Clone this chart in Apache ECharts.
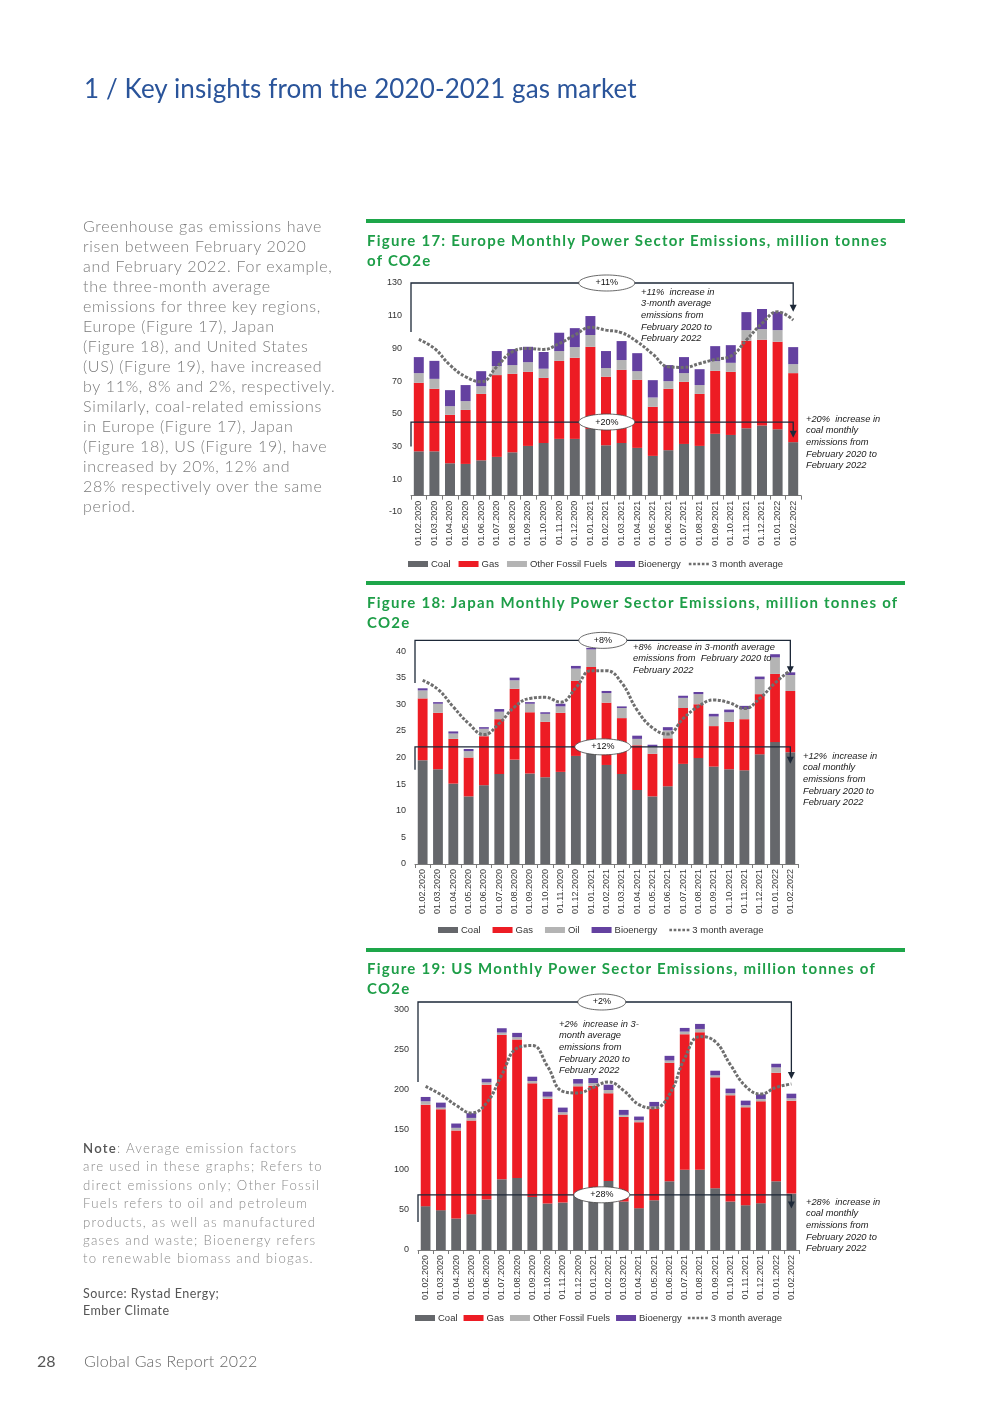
<!DOCTYPE html>
<html><head><meta charset="utf-8">
<script src="https://cdn.jsdelivr.net/npm/echarts@6/dist/echarts.min.js"></script>
<style>
html,body{margin:0;padding:0;background:#fff;}
body{width:987px;height:1403px;position:relative;overflow:hidden;font-family:Lato,"Open Sans",sans-serif;}
#chart{position:absolute;left:0;top:0;width:987px;height:1403px;}
.t{position:absolute;white-space:nowrap;}
#title{left:84px;top:72px;font-size:26px;color:#2a549a;font-weight:400;letter-spacing:0.1px;}
#body{left:83px;top:216px;font-size:16px;line-height:20px;color:#7a7a7a;letter-spacing:0.7px;font-weight:300;}
#note{left:83px;top:1139px;font-size:13.2px;line-height:18.4px;color:#8a8a8a;letter-spacing:1.25px;font-weight:300;}
#note b{color:#555;font-weight:600;}
#src{left:83px;top:1285px;font-size:12.5px;line-height:17px;color:#555;letter-spacing:0.5px;}
#pg{left:37px;top:1351px;font-size:16px;color:#555;}
#foot{left:84px;top:1351px;font-size:16px;color:#666;letter-spacing:0.3px;font-weight:300;}
.rule{position:absolute;left:366px;width:539px;height:4px;background:#1ea64a;}
.ft{position:absolute;left:367px;font-size:15px;line-height:20px;color:#1e9e48;font-weight:700;letter-spacing:1.25px;white-space:nowrap;}
</style></head>
<body>
<div id="chart"></div>
<div class="t" id="title">1 / Key insights from the 2020-2021 gas market</div>
<div class="t" id="body">Greenhouse gas emissions have<br>risen between February 2020<br>and February 2022. For example,<br>the three-month average<br>emissions for three key regions,<br>Europe (Figure 17), Japan<br>(Figure 18), and United States<br>(US) (Figure 19), have increased<br>by 11%, 8% and 2%, respectively.<br>Similarly, coal-related emissions<br>in Europe (Figure 17), Japan<br>(Figure 18), US (Figure 19), have<br>increased by 20%, 12% and<br>28% respectively over the same<br>period.</div>
<div class="rule" style="top:219px"></div>
<div class="ft" style="top:230px">Figure 17: Europe Monthly Power Sector Emissions, million tonnes<br>of CO2e</div>
<div class="rule" style="top:581px"></div>
<div class="ft" style="top:592px">Figure 18: Japan Monthly Power Sector Emissions, million tonnes of<br>CO2e</div>
<div class="rule" style="top:948px"></div>
<div class="ft" style="top:958px">Figure 19: US Monthly Power Sector Emissions, million tonnes of<br>CO2e</div>
<div class="t" id="note"><b>Note</b>: Average emission factors<br>are used in these graphs; Refers to<br>direct emissions only; Other Fossil<br>Fuels refers to oil and petroleum<br>products, as well as manufactured<br>gases and waste; Bioenergy refers<br>to renewable biomass and biogas.</div>
<div class="t" id="src">Source: Rystad Energy;<br>Ember Climate</div>
<div class="t" id="pg">28</div>
<div class="t" id="foot">Global Gas Report 2022</div>
<script>
const months = ['01.02.2020','01.03.2020','01.04.2020','01.05.2020','01.06.2020','01.07.2020','01.08.2020','01.09.2020','01.10.2020','01.11.2020','01.12.2020','01.01.2021','01.02.2021','01.03.2021','01.04.2021','01.05.2021','01.06.2021','01.07.2021','01.08.2021','01.09.2021','01.10.2021','01.11.2021','01.12.2021','01.01.2022','01.02.2022'];

// Europe
const euCoal  = [27.1,27.1,19.8,19.4,21.6,23.7,26.5,30.4,32.2,34.7,34.7,40.8,30.8,32.2,29.2,24.3,27.8,31.6,30.4,37.8,37.1,41.2,42.9,40.6,32.7];
const euGas   = [41.9,38.2,29.6,33.0,40.6,50.0,48.0,45.3,39.8,47.7,49.6,50.2,41.9,44.7,41.6,30.0,37.5,38.0,31.8,38.5,38.6,53.5,52.4,53.5,42.2];
const euOther = [5.9,6.1,5.3,5.4,4.7,5.5,5.3,5.9,5.6,6.0,6.5,7.2,5.3,6.0,5.3,5.7,4.7,5.3,5.4,5.9,5.5,6.5,6.5,7.1,5.5];
const euBio   = [9.8,11.0,9.8,9.8,9.2,9.2,9.8,9.4,10.2,11.2,11.6,11.6,10.4,11.6,11.0,10.6,9.8,9.8,9.7,9.2,10.8,11.0,12.3,11.2,10.4];
const euAvg   = [95.5,90.0,79.8,72.7,69.6,78.8,88.0,90.0,89.4,93.0,98.2,102.9,101.2,99.6,94.1,86.5,78.8,78.4,80.8,83.3,85.3,95.1,105.3,112.4,107.3];

// Japan
const jpCoal = [19.5,17.8,15.1,12.7,14.8,16.9,19.6,17.0,16.3,17.3,20.3,21.1,18.6,16.9,13.9,12.7,14.6,18.8,19.9,18.3,17.8,17.6,20.6,22.9,21.0];
const jpGas  = [11.6,10.6,8.4,7.3,9.2,10.3,13.3,11.5,10.4,11.1,14.1,15.9,11.7,10.5,8.4,8.0,9.0,10.5,10.1,7.6,8.9,9.6,11.3,12.8,11.5];
const jpOil  = [1.5,1.7,1.0,1.2,1.4,1.4,1.6,1.6,1.5,1.2,2.3,3.3,1.8,1.9,1.2,1.3,1.5,1.9,1.9,1.8,1.8,1.9,2.8,3.1,3.0];
const jpBio  = [0.4,0.3,0.4,0.4,0.3,0.5,0.5,0.3,0.3,0.5,0.5,0.3,0.4,0.3,0.6,0.4,0.6,0.4,0.4,0.5,0.5,0.6,0.5,0.6,0.5];
const jpAvg  = [34.5,32.8,29.5,26.4,24.3,26.4,29.5,31.1,31.3,30.4,33.1,36.3,36.3,34.0,28.9,25.6,24.4,27.3,29.6,30.8,30.3,29.2,31.1,34.0,36.4];

// US
const usCoal  = [54.8,49.8,39.4,44.8,63.1,88.4,90.0,66.4,58.1,59.3,68,72,86.3,60.6,52.3,62.2,85.9,100.4,100.4,77.2,60.6,56.0,58.5,85.9,70.5];
const usGas   = [126.9,126.1,110.0,117.0,143.5,180.5,173.1,141.9,131.1,110.0,136.6,133.4,109.6,105.8,107.5,114.6,148.1,169.3,171.8,138.6,132.8,122.4,127.4,135.7,116.2];
const usOther = [4.2,2.1,3.3,3.3,2.9,2.9,2.9,2.9,2.5,2.9,3.3,3.3,4.1,2.5,2.4,2.5,2.9,3.3,4.1,2.5,2.5,2.5,2.9,6.6,2.9];
const usBio   = [5.4,6.2,5.4,5.9,4.6,5.4,5.4,5.4,6.2,5.8,5.8,6.2,6.6,6.2,4.6,5.8,5.8,4.6,6.3,5.8,5.8,5.8,5.8,4.6,5.8];
const usAvg   = [204.6,194.2,180.9,171.4,183.8,219.0,252.3,255.6,229.5,198.3,196.3,203.3,210.0,199.2,181.7,177.6,194.2,239.8,266.8,260.6,231.5,204.6,195.0,203.3,207.5];

const C = {coal:'#65676b', gas:'#ed1c24', other:'#b4b4b4', bio:'#6441a0', avg:'#6e6e6e'};
const FONT = 'Liberation Sans';

const grids = [
  {left:411, top:283, width:390, height:229},
  {left:415, top:624.4, width:383, height:239.6},
  {left:418, top:1010, width:381, height:240}
];
const yAx = [
  {min:-10, max:130, interval:20, showMax:true},
  {min:0, max:45, interval:5, showMax:false},
  {min:0, max:300, interval:50, showMax:true}
];
const sets = [
  {names:['Coal','Gas','Other Fossil Fuels','Bioenergy','3 month average'], data:[euCoal,euGas,euOther,euBio,euAvg], legend:{left:408, top:559, gap:8}},
  {names:['Coal','Gas','Oil','Bioenergy','3 month average'], data:[jpCoal,jpGas,jpOil,jpBio,jpAvg], legend:{left:438, top:925, gap:12}},
  {names:['Coal','Gas','Other Fossil Fuels','Bioenergy','3 month average'], data:[usCoal,usGas,usOther,usBio,usAvg], legend:{left:415, top:1313, gap:6}}
];
const colors = [C.coal, C.gas, C.other, C.bio];
const dotIcon = 'path://M0,0h3v3h-3z M5,0h3v3h-3z M10,0h3v3h-3z M15,0h3v3h-3z M20,0h3v3h-3z';

const option = {
  animation:false,
  grid: grids.map(g=>Object.assign({containLabel:false}, g)),
  xAxis: grids.map((g,i)=>{
    // Europe: axis line sits on the zero value, above the -10 floor of the value axis
    const off = i===0 ? -(g.height*10/140) : 0;
    return {
      type:'category', gridIndex:i, data:months, boundaryGap:true, position:'bottom', offset:off,
      axisLine:{show:true, onZero:false, lineStyle:{color:'#7a7a7a', width:1}},
      axisTick:{show:true, length:4, lineStyle:{color:'#7a7a7a'}},
      axisLabel:{rotate:90, interval:0, fontSize:9, color:'#3a3a3a', fontFamily:FONT, margin:5}
    };
  }),
  yAxis: yAx.map((y,i)=>({
    type:'value', gridIndex:i, min:y.min, max:y.max, interval:y.interval,
    axisLine:{show:false}, axisTick:{show:false}, splitLine:{show:false},
    axisLabel:{fontSize:9, color:'#333', fontFamily:FONT, margin:9, showMaxLabel:y.showMax}
  })),
  legend: sets.map((s,i)=>({
    left:s.legend.left, top:s.legend.top, itemWidth:20, itemHeight:6, itemGap:s.legend.gap,
    padding:0, orient:'horizontal',
    textStyle:{fontSize:9.5, color:'#333', fontFamily:FONT, padding:[0,0,0,-2]},
    data:s.names.map((n,k)=>k<4?{name:n, icon:'rect'}:{name:n, icon:dotIcon, itemStyle:{color:C.avg}}),
    selectedMode:false
  })),
  series: []
};
sets.forEach((s,gi)=>{
  for(let k=0;k<4;k++){
    option.series.push({
      type:'bar', name:s.names[k], xAxisIndex:gi, yAxisIndex:gi, stack:'s'+gi,
      data:s.data[k], barWidth:'64%', clip:false,
      itemStyle:{color:colors[k]}
    });
  }
  option.series.push({
    type:'line', name:s.names[4], xAxisIndex:gi, yAxisIndex:gi, data:s.data[4],
    smooth:0.45, symbol:'none', z:5,
    lineStyle:{color:C.avg, width:3, type:[3,1.6]},
    itemStyle:{color:C.avg}
  });
});

const chart = echarts.init(document.getElementById('chart'), null, {renderer:'canvas'});
chart.setOption(option);

// Annotation definitions (data space)
const ann = [
  {top:{h:130, from:100, arrow:113, cat:12.05, label:'+11%', rx:28},
   bot:{h:45, to:30, arrow:36, cat:12.05, label:'+20%', rx:28},
   texts:[{x:641, y:292, lines:['+11%  increase in','3-month average','emissions from','February 2020 to','February 2022']},
          {x:806, y:419, lines:['+20%  increase in','coal monthly','emissions from','February 2020 to','February 2022']}]},
  {top:{h:42, from:34, arrow:36, cat:11.76, label:'+8%', rx:24},
   bot:{h:22, to:17.7, arrow:19, cat:11.76, label:'+12%', rx:28},
   texts:[{x:633, y:647, lines:['+8%  increase in 3-month average','emissions from  February 2020 to','February 2022']},
          {x:803, y:756, lines:['+12%  increase in','coal monthly','emissions from','February 2020 to','February 2022']}]},
  {top:{h:310, from:210, arrow:215, cat:11.56, label:'+2%', rx:24},
   bot:{h:69, to:35, arrow:53, cat:11.56, label:'+28%', rx:28},
   texts:[{x:559, y:1024, lines:['+2%  increase in 3-','month average','emissions from','February 2020 to','February 2022']},
          {x:806, y:1202, lines:['+28%  increase in','coal monthly','emissions from','February 2020 to','February 2022']}]}
];

function px(gi, cat, val){
  const a = chart.convertToPixel({xAxisIndex:gi, yAxisIndex:gi}, [0, val]);
  const b = chart.convertToPixel({xAxisIndex:gi, yAxisIndex:gi}, [1, val]);
  return [a[0] + (b[0]-a[0])*cat, a[1]];
}
const LC = '#1d2838';
const gfx = [];
ann.forEach((A,gi)=>{
  const last = months.length-1;
  [['top',A.top],['bot',A.bot]].forEach(([kind,B])=>{
    const L = px(gi,-0.5,B.h), R = px(gi,last,B.h);
    const lv = px(gi,-0.5, kind==='top'?B.from:B.to);
    const av = px(gi,last,B.arrow);
    gfx.push({type:'polyline', z:100, shape:{points:[[lv[0],lv[1]],[L[0],L[1]],[R[0],R[1]],[av[0],av[1]-5]]},
      style:{stroke:LC, lineWidth:1.3, fill:null}});
    gfx.push({type:'polygon', z:100, shape:{points:[[av[0]-3.5,av[1]-6],[av[0]+3.5,av[1]-6],[av[0],av[1]+1]]},
      style:{fill:LC}});
    const E = px(gi,B.cat,B.h);
    gfx.push({type:'ellipse', z:101, shape:{cx:E[0], cy:E[1], rx:B.rx, ry:8},
      style:{fill:'#fff', stroke:'#444', lineWidth:0.8}});
    gfx.push({type:'text', z:102, x:E[0], y:E[1], style:{text:B.label, fill:'#111', fontSize:9, fontFamily:FONT, align:'center', verticalAlign:'middle'}});
  });
  A.texts.forEach(T=>{
    T.lines.forEach((ln,j)=>{
      gfx.push({type:'text', z:102, x:T.x, y:T.y + j*11.7, style:{text:ln, fill:'#1a1a1a', fontSize:9.3, fontStyle:'italic', fontFamily:FONT, verticalAlign:'middle', align:'left'}});
    });
  });
});
chart.setOption({graphic:gfx});
</script>
</body></html>
